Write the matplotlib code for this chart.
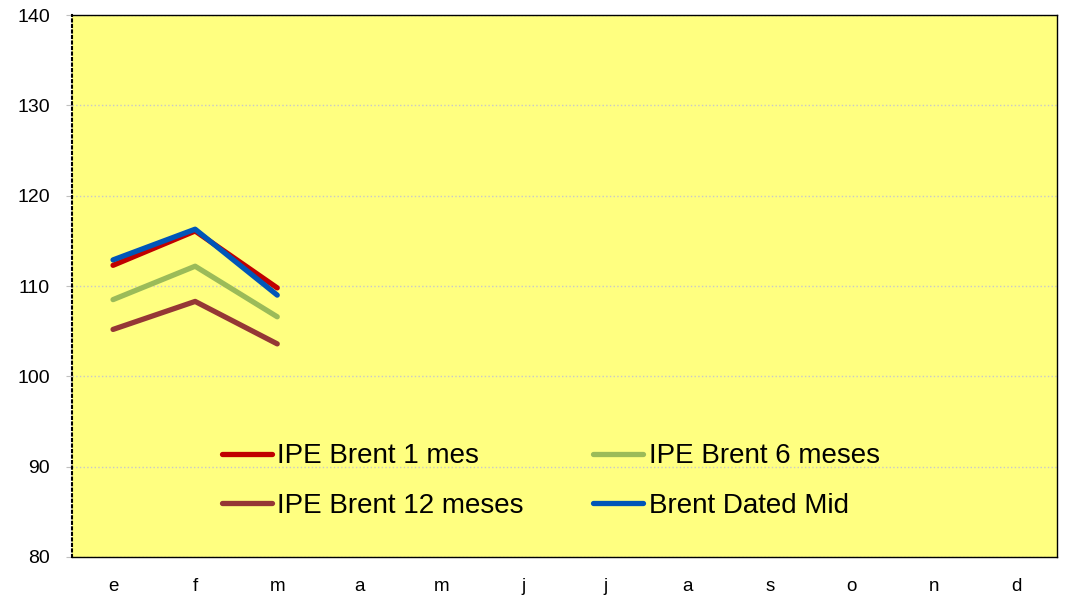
import matplotlib
matplotlib.use('Agg')
import matplotlib.pyplot as plt

plt.rcParams['font.family'] = ['Liberation Sans', 'DejaVu Sans']

# months
meses = ['e', 'f', 'm', 'a', 'm', 'j', 'j', 'a', 's', 'o', 'n', 'd']

# precios (solo ene-mar)
brent_1m = [112.3, 116.1, 109.8]
brent_6m = [108.5, 112.2, 106.6]
brent_12m = [105.2, 108.3, 103.6]
brent_dated = [112.9, 116.3, 109.0]

fig = plt.figure(figsize=(10.65, 5.98), dpi=100)
ax = fig.add_axes([0.0676, 0.0686, 0.925, 0.906])
ax.set_facecolor('#ffff80')

x = list(range(len(brent_1m)))
ax.plot(x, brent_1m, color='#c00000', lw=3.8, label='IPE Brent 1 mes', solid_capstyle='round')
ax.plot(x, brent_6m, color='#9bbb59', lw=3.8, label='IPE Brent 6 meses', solid_capstyle='round')
ax.plot(x, brent_12m, color='#953735', lw=3.8, label='IPE Brent 12 meses', solid_capstyle='round')
ax.plot(x, brent_dated, color='#0056b8', lw=3.8, label='Brent Dated Mid', solid_capstyle='round')

ax.set_xlim(-0.5, len(meses) - 0.5)
ax.set_ylim(80, 140)
ax.set_xticks(range(len(meses)))
ax.set_xticklabels(meses)
ax.set_yticks(range(80, 141, 10))
ax.tick_params(axis='x', length=0, labelsize=13.5, pad=15)
ax.tick_params(axis='y', length=4, color='#c0c0c0', labelsize=14, pad=12)

ax.grid(axis='y', color='#c8c8c8', linestyle=':', lw=1)
ax.set_axisbelow(True)

for s in ['top', 'right', 'bottom']:
    ax.spines[s].set_color('black')
    ax.spines[s].set_linewidth(1)
ax.spines['left'].set_linestyle(':')
ax.spines['left'].set_linewidth(1.5)

# legend order: 1 mes, 6 meses / 12 meses, dated
h, l = ax.get_legend_handles_labels()
order = [0, 2, 1, 3]
leg = ax.legend([h[i] for i in order], [l[i] for i in order], ncol=2, frameon=False,
                loc='lower left', bbox_to_anchor=(0.152, 0.07), fontsize=20,
                borderpad=0, borderaxespad=0,
                handlelength=1.8, handletextpad=0.2, columnspacing=2.5, labelspacing=0.85)

fig.savefig('out.png', dpi=100)
